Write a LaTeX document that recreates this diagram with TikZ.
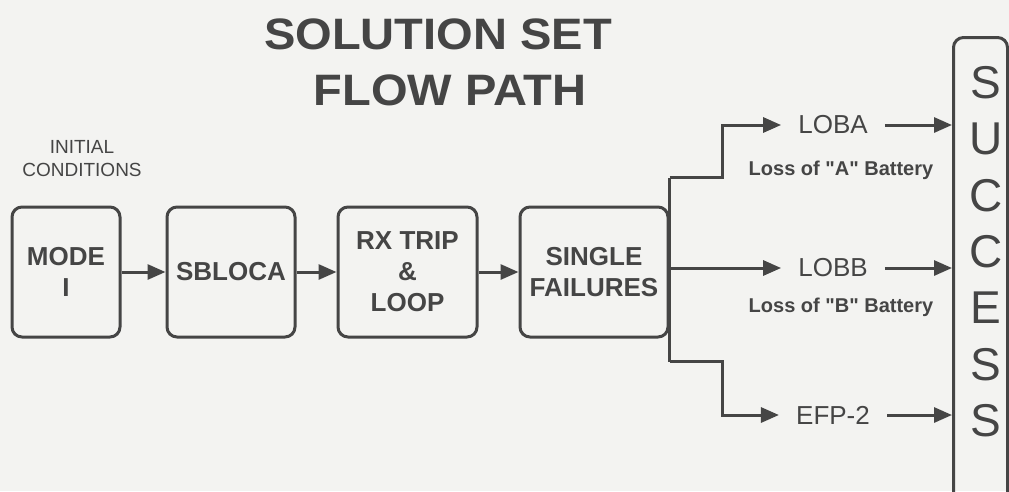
\documentclass[tikz,border=0pt]{standalone}
\usepackage{fontspec}
\setmainfont{Liberation Sans}
\newfontfamily\titlefont[FakeStretch=1.07]{Liberation Sans}
\usetikzlibrary{arrows.meta,calc}
\definecolor{ink}{HTML}{454545}
\definecolor{paper}{HTML}{F3F3F1}
\tikzset{
	flowbox/.style={draw=ink, line width=3pt, rounded corners=10pt, align=center, text=ink, inner sep=0pt, font=\bfseries\fontsize{26}{31}\selectfont},
	flow/.style={draw=ink, line width=3pt, -{Triangle[length=18pt,width=15pt]}},
	branch/.style={text=ink, inner xsep=17pt, inner ysep=0pt, font=\fontsize{26}{26}\selectfont},
	losslabel/.style={text=ink, inner sep=0pt, anchor=base, font=\bfseries\fontsize{20}{20}\selectfont},
	bigtitle/.style={text=ink, inner sep=0pt, anchor=base, font=\titlefont\bfseries\fontsize{44}{44}\selectfont}
}

\begin{document}
\begin{tikzpicture}[x=1pt, y=-1pt]
			%%%%% START %%%%%
			
			\fill[paper] (0, 0) rectangle (1009, 491);
			\useasboundingbox (0, 0) rectangle (1009, 491);
			
			\node[bigtitle] (title1) at (438, 49) {SOLUTION SET};
			\node[bigtitle] (title2) at (450, 105) {FLOW PATH};
			
			\node[text=ink, align=center, inner sep=0pt, font=\fontsize{19}{23}\selectfont] (init) at (82, 159) {INITIAL\\CONDITIONS};
			
			\node[flowbox, minimum width=108, minimum height=130] (mode) at (66, 272) {MODE\\I};
			\node[flowbox, minimum width=128, minimum height=130] (sbloca) at (231, 272) {SBLOCA};
			\node[flowbox, minimum width=139, minimum height=130] (rxtrip) at (407.5, 272) {RX TRIP\\\&\\LOOP};
			\node[flowbox, minimum width=148, minimum height=130] (single) at (594, 272) {SINGLE\\FAILURES};
			
			\draw[flow] (mode) -- (sbloca);
			\draw[flow] (sbloca) -- (rxtrip);
			\draw[flow] (rxtrip) -- (single);
			
			\node[branch] (loba) at (833, 125) {LOBA};
			\node[losslabel] (lossA) at (841, 175) {Loss of \textquotedbl A\textquotedbl\ Battery};
			\node[branch] (lobb) at (833, 268) {LOBB};
			\node[losslabel] (lossB) at (841, 312) {Loss of \textquotedbl B\textquotedbl\ Battery};
			\node[branch] (efp) at (833, 415) {EFP-2};
			
			\node[draw=ink, line width=3pt, rounded corners=10pt, minimum width=54, minimum height=520, anchor=north west] (success) at (952, 36) {};
			\foreach \ch [count=\i from 0] in {S,U,C,C,E,S,S}
				\node[text=ink, inner sep=0pt, anchor=base, font=\fontsize{46}{46}\selectfont] (succ\i) at (986, 98.5+56.3*\i) {\ch};
			
			\coordinate (forkup) at ($(single.north east)+(0,-28)$);
			\coordinate (forkdown) at ($(single.south east)+(0,23)$);
			\draw[draw=ink, line width=3pt] (forkup) -- (forkdown);
			
			\draw[flow] (forkup) -- ++(53, 0) |- (loba.west);
			\draw[flow] (single.east |- lobb) -- (lobb.west);
			\draw[flow] (forkdown) -- ++(53, 0) |- (efp.west);
			
			\draw[flow] (loba.east) -- (success.west |- loba);
			\draw[flow] (lobb.east) -- (success.west |- lobb);
			\draw[flow] (efp.east) -- (success.west |- efp);
			
			%%%%% END %%%%%
\end{tikzpicture}
\end{document}
